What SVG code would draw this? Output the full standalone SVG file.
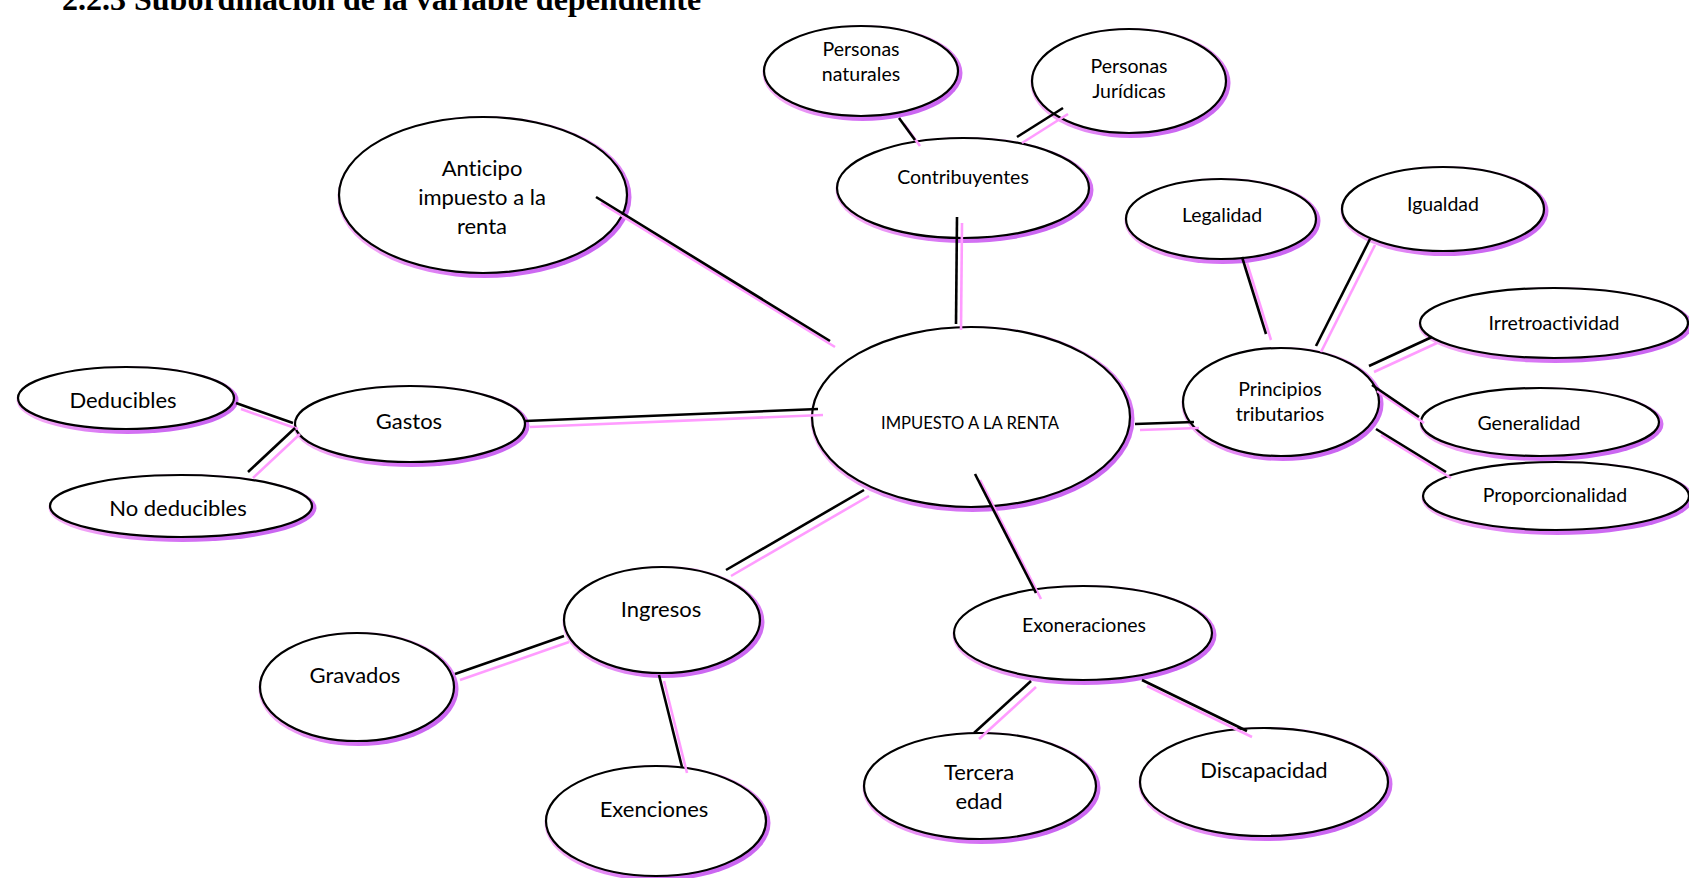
<svg xmlns="http://www.w3.org/2000/svg" width="1689" height="878" viewBox="0 0 1689 878">
<defs>
<linearGradient id="sh" x1="0" y1="0" x2="1" y2="1">
<stop offset="0" stop-color="#fcc8fc"/>
<stop offset="0.45" stop-color="#f4a8f6"/>
<stop offset="0.7" stop-color="#d877f4"/>
<stop offset="1" stop-color="#bb52ee"/>
</linearGradient>
</defs>
<style>
.s{fill:url(#sh);stroke:none}
.e{fill:#fff;stroke:#000;stroke-width:2.2}
text{font-family:Lato,"Open Sans","Liberation Sans",sans-serif;fill:#000;text-anchor:middle;font-variant-ligatures:none}
.S{font-size:19.5px}
.M{font-size:22px}
.B{font-size:16.6px}
.t{font-family:"Liberation Serif","Times New Roman",serif;font-weight:bold;font-size:32px;text-anchor:start}
.k{stroke:#000;stroke-width:2.6;fill:none}
.p{stroke:#ff9cff;stroke-width:2.6;fill:none}
</style>
<rect width="1689" height="878" fill="#fff"/>
<text class="t" x="62" y="10">2.2.3 Subordinación de la variable dependiente</text>

<g id="n-nat"><ellipse class="s" cx="862.5" cy="73" rx="100" ry="48"/><ellipse class="e" cx="861" cy="71" rx="97" ry="45"/><text class="S" x="861" y="56">Personas</text><text class="S" x="861" y="81">naturales</text></g>
<g id="n-jur"><ellipse class="s" cx="1130.5" cy="83" rx="100" ry="55"/><ellipse class="e" cx="1129" cy="81" rx="97" ry="52"/><text class="S" x="1129" y="73">Personas</text><text class="S" x="1129" y="98">Jurídicas</text></g>
<g id="n-contrib"><ellipse class="s" cx="964.5" cy="190" rx="129" ry="53"/><ellipse class="e" cx="963" cy="188" rx="126" ry="50"/><text class="S" x="963" y="184">Contribuyentes</text></g>
<g id="n-anticipo"><ellipse class="s" cx="484.5" cy="197" rx="147" ry="81"/><ellipse class="e" cx="483" cy="195" rx="144" ry="78"/><text class="M" x="482" y="176">Anticipo</text><text class="M" x="482" y="205">impuesto a la</text><text class="M" x="482" y="234">renta</text></g>
<g id="n-impuesto"><ellipse class="s" cx="972.5" cy="419" rx="162" ry="93"/><ellipse class="e" cx="971" cy="417" rx="159" ry="90"/><text class="B" x="970" y="429">IMPUESTO A LA RENTA</text></g>
<g id="n-legalidad"><ellipse class="s" cx="1222.5" cy="221" rx="98" ry="43"/><ellipse class="e" cx="1221" cy="219" rx="95" ry="40"/><text class="S" x="1222" y="222">Legalidad</text></g>
<g id="n-igualdad"><ellipse class="s" cx="1444.5" cy="211" rx="104" ry="45"/><ellipse class="e" cx="1443" cy="209" rx="101" ry="42"/><text class="S" x="1443" y="211">Igualdad</text></g>
<g id="n-irretro"><ellipse class="s" cx="1555.5" cy="325" rx="137" ry="38"/><ellipse class="e" cx="1554" cy="323" rx="134" ry="35"/><text class="S" x="1554" y="330">Irretroactividad</text></g>
<g id="n-generalidad"><ellipse class="s" cx="1541.5" cy="424" rx="122" ry="37"/><ellipse class="e" cx="1540" cy="422" rx="119" ry="34"/><text class="S" x="1529" y="430">Generalidad</text></g>
<g id="n-proporc"><ellipse class="s" cx="1557.5" cy="498" rx="136" ry="37"/><ellipse class="e" cx="1556" cy="496" rx="133" ry="34"/><text class="S" x="1555" y="502">Proporcionalidad</text></g>
<g id="n-principios"><ellipse class="s" cx="1282.5" cy="404" rx="101" ry="57"/><ellipse class="e" cx="1281" cy="402" rx="98" ry="54"/><text class="S" x="1280" y="396">Principios</text><text class="S" x="1280" y="421">tributarios</text></g>
<g id="n-deducibles"><ellipse class="s" cx="127.5" cy="400" rx="111" ry="34"/><ellipse class="e" cx="126" cy="398" rx="108" ry="31"/><text class="M" x="123" y="408">Deducibles</text></g>
<g id="n-gastos"><ellipse class="s" cx="411.5" cy="426" rx="118" ry="41"/><ellipse class="e" cx="410" cy="424" rx="115" ry="38"/><text class="M" x="409" y="429">Gastos</text></g>
<g id="n-nodeduc"><ellipse class="s" cx="182.5" cy="508" rx="134" ry="34"/><ellipse class="e" cx="181" cy="506" rx="131" ry="31"/><text class="M" x="178" y="516">No deducibles</text></g>
<g id="n-ingresos"><ellipse class="s" cx="663.5" cy="622" rx="101" ry="56"/><ellipse class="e" cx="662" cy="620" rx="98" ry="53"/><text class="M" x="661" y="617">Ingresos</text></g>
<g id="n-gravados"><ellipse class="s" cx="358.5" cy="689" rx="100" ry="57"/><ellipse class="e" cx="357" cy="687" rx="97" ry="54"/><text class="M" x="355" y="683">Gravados</text></g>
<g id="n-exenciones"><ellipse class="s" cx="657.5" cy="823" rx="113" ry="58"/><ellipse class="e" cx="656" cy="821" rx="110" ry="55"/><text class="M" x="654" y="817">Exenciones</text></g>
<g id="n-exoneraciones"><ellipse class="s" cx="1084.5" cy="635" rx="132" ry="50"/><ellipse class="e" cx="1083" cy="633" rx="129" ry="47"/><text class="S" x="1084" y="632">Exoneraciones</text></g>
<g id="n-tercera"><ellipse class="s" cx="981.5" cy="788" rx="119" ry="56"/><ellipse class="e" cx="980" cy="786" rx="116" ry="53"/><text class="M" x="979" y="780">Tercera</text><text class="M" x="979" y="809">edad</text></g>
<g id="n-discapacidad"><ellipse class="s" cx="1265.5" cy="784" rx="127" ry="57"/><ellipse class="e" cx="1264" cy="782" rx="124" ry="54"/><text class="M" x="1264" y="778">Discapacidad</text></g>

<g id="connectors">
<g class="p">
<line x1="904" y1="124" x2="920" y2="146"/>
<line x1="1022" y1="143" x2="1068" y2="114"/>
<line x1="962" y1="223" x2="961" y2="330"/>
<line x1="601" y1="203" x2="835" y2="347"/>
<line x1="530" y1="427" x2="823" y2="415"/>
<line x1="241" y1="409" x2="298" y2="429"/>
<line x1="253" y1="478" x2="300" y2="434"/>
<line x1="869" y1="496" x2="731" y2="576"/>
<line x1="569" y1="642" x2="460" y2="680"/>
<line x1="664" y1="681" x2="687" y2="773"/>
<line x1="980" y1="480" x2="1041" y2="599"/>
<line x1="1036" y1="687" x2="979" y2="739"/>
<line x1="1147" y1="686" x2="1252" y2="737"/>
<line x1="1140" y1="430" x2="1199" y2="428"/>
<line x1="1247" y1="263" x2="1271" y2="340"/>
<line x1="1375" y1="245" x2="1321" y2="352"/>
<line x1="1437" y1="343" x2="1374" y2="372"/>
<line x1="1377" y1="391" x2="1424" y2="423"/>
<line x1="1381" y1="435" x2="1451" y2="478"/>
</g>
<g class="k">
<line x1="899" y1="118" x2="915" y2="140"/>
<line x1="1017" y1="137" x2="1063" y2="108"/>
<line x1="957" y1="217" x2="956" y2="324"/>
<line x1="596" y1="197" x2="830" y2="341"/>
<line x1="525" y1="421" x2="818" y2="409"/>
<line x1="236" y1="403" x2="293" y2="423"/>
<line x1="248" y1="472" x2="295" y2="428"/>
<line x1="864" y1="490" x2="726" y2="570"/>
<line x1="564" y1="636" x2="455" y2="674"/>
<line x1="659" y1="675" x2="682" y2="767"/>
<line x1="975" y1="474" x2="1036" y2="593"/>
<line x1="1031" y1="681" x2="974" y2="733"/>
<line x1="1142" y1="680" x2="1247" y2="731"/>
<line x1="1135" y1="424" x2="1194" y2="422"/>
<line x1="1242" y1="257" x2="1266" y2="334"/>
<line x1="1370" y1="239" x2="1316" y2="346"/>
<line x1="1432" y1="337" x2="1369" y2="366"/>
<line x1="1372" y1="385" x2="1419" y2="417"/>
<line x1="1376" y1="429" x2="1446" y2="472"/>
</g>
</g>
</svg>
